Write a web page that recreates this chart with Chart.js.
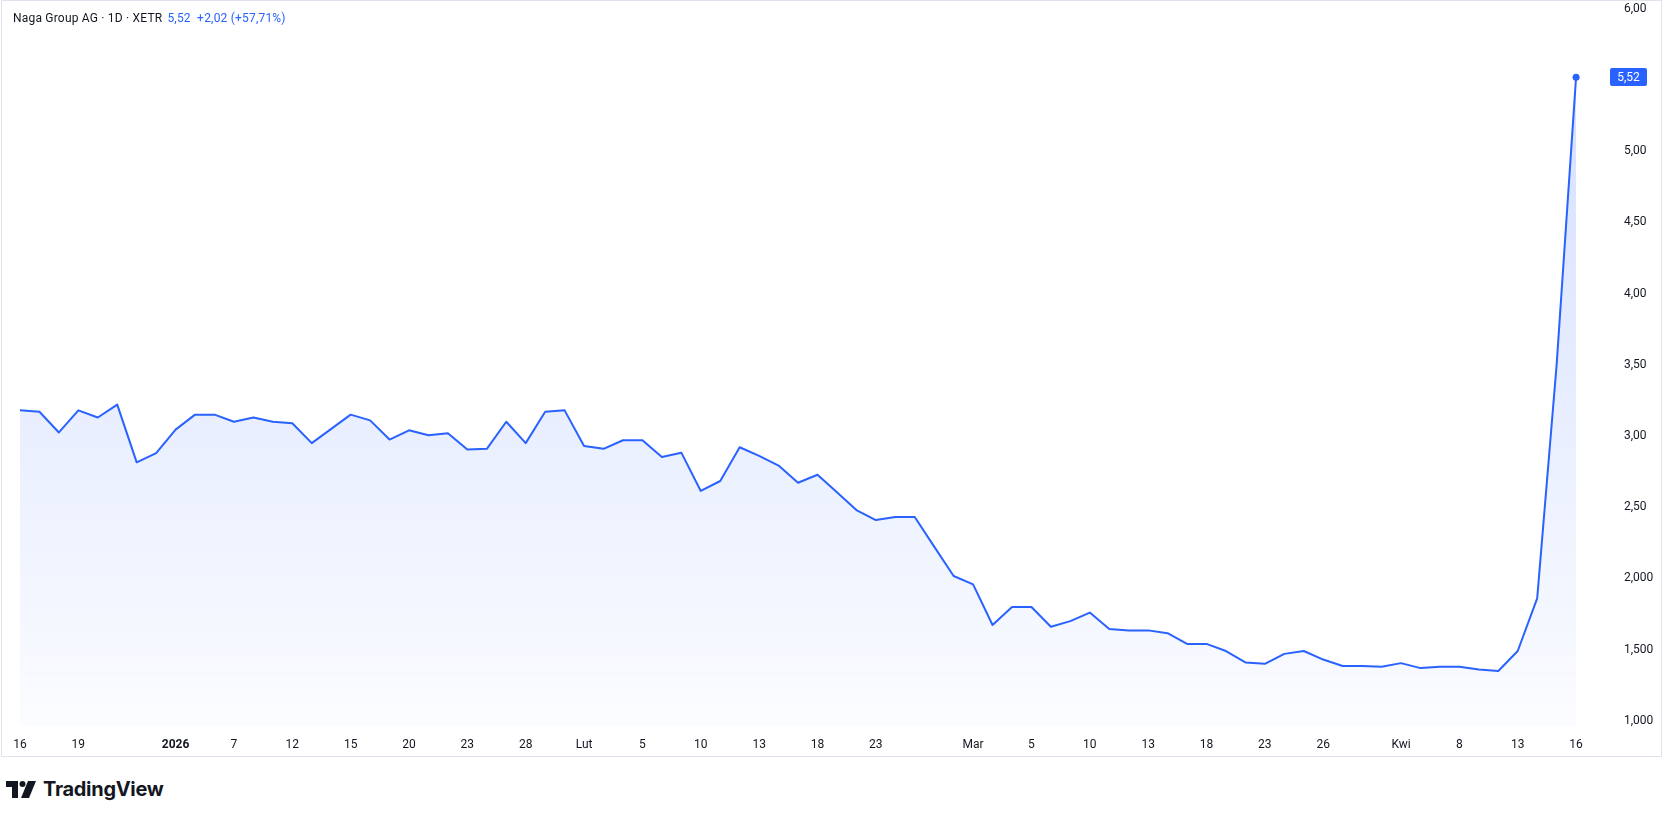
<!DOCTYPE html>
<html lang="pl">
<head>
<meta charset="UTF-8" />
<title>Naga Group AG - 1D - XETR</title>
<script src="https://cdn.jsdelivr.net/npm/chart.js"></script>
<style>
  body { margin: 0; background: #fff; font-family: Roboto, "Noto Sans", sans-serif; }
  .panel { position: absolute; left: 1px; top: 0; width: 1659px; height: 755px; border: 1px solid #e0e3eb; }
  canvas { display: block; }
  .legend { position: absolute; left: 11px; top: 10px; font-size: 12px; letter-spacing: 0.2px; color: #131722; white-space: pre; }
  .legend .val { color: #2962ff; margin-left: 5px; }
  .logo { position: absolute; left: 6px; top: 778px; height: 22px; display: flex; align-items: center; }
  .logo span { font-family: Inter, Roboto, sans-serif; font-weight: 700; font-size: 20px; color: #131722; margin-left: 7px; letter-spacing: -0.3px; }
</style>
</head>
<body>
  <div class="panel">
    <canvas id="chart" width="1659" height="755"></canvas>
    <div class="legend">Naga Group AG · 1D · XETR<span class="val">5,52  +2,02 (+57,71%)</span></div>
  </div>
  <div class="logo">
    <svg width="30" height="17" viewBox="0 0 30 17">
      <path d="M0 0 H12 V17 H6 V6 H0 Z" fill="#131722" />
      <circle cx="16.5" cy="3" r="3" fill="#131722" />
      <path d="M22 0 H30 L23 17 H15 Z" fill="#131722" />
    </svg>
    <span>TradingView</span>
  </div>

<script>
// trading days, 16 Dec 2025 - 16 Apr 2026
const dates = [
  '12-16', '12-17', '12-18', '12-19', '12-22', '12-23', '12-29', '12-30',
  '01-02', '01-05', '01-06', '01-07', '01-08', '01-09', '01-12', '01-13', '01-14', '01-15', '01-16',
  '01-19', '01-20', '01-21', '01-22', '01-23', '01-26', '01-27', '01-28', '01-29', '01-30',
  '02-02', '02-03', '02-04', '02-05', '02-06', '02-09', '02-10', '02-11', '02-12', '02-13',
  '02-16', '02-17', '02-18', '02-19', '02-20', '02-23', '02-24', '02-25', '02-26', '02-27',
  '03-02', '03-03', '03-04', '03-05', '03-06', '03-09', '03-10', '03-11', '03-12', '03-13',
  '03-16', '03-17', '03-18', '03-19', '03-20', '03-23', '03-24', '03-25', '03-26', '03-27',
  '03-30', '03-31', '04-01', '04-02', '04-07', '04-08', '04-09', '04-10', '04-13', '04-14',
  '04-15', '04-16'
];

// close prices (EUR)
const closes = [
  3.18, 3.17, 3.025, 3.18, 3.13, 3.22, 2.815, 2.88,
  3.045, 3.15, 3.15, 3.10, 3.13, 3.10, 3.09, 2.95, 3.05, 3.15, 3.11,
  2.975, 3.04, 3.005, 3.02, 2.905, 2.91, 3.10, 2.95, 3.17, 3.18,
  2.93, 2.91, 2.97, 2.97, 2.853, 2.883, 2.614, 2.684, 2.921, 2.86,
  2.792, 2.672, 2.728, 2.605, 2.48, 2.41, 2.431, 2.431, 2.223, 2.017,
  1.958, 1.673, 1.799, 1.799, 1.66, 1.70, 1.76, 1.645, 1.635, 1.635,
  1.615, 1.54, 1.54, 1.49, 1.41, 1.40, 1.47, 1.49, 1.43, 1.385,
  1.385, 1.38, 1.405, 1.37, 1.38, 1.38, 1.36, 1.35, 1.49, 1.86,
  3.50, 5.52
];

const xTickDates = ['12-16', '12-19', '01-02', '01-07', '01-12', '01-15', '01-20', '01-23', '01-28',
  '02-02', '02-05', '02-10', '02-13', '02-18', '02-23', '03-02', '03-05', '03-10', '03-13',
  '03-18', '03-23', '03-26', '04-01', '04-08', '04-13', '04-16'];
const xTickLabels = ['16', '19', '2026', '7', '12', '15', '20', '23', '28',
  'Lut', '5', '10', '13', '18', '23', 'Mar', '5', '10', '13',
  '18', '23', '26', 'Kwi', '8', '13', '16'];

const yTicks = [1, 1.5, 2, 2.5, 3, 3.5, 4, 4.5, 5, 6];
const yTickLabels = ['1,000', '1,500', '2,000', '2,50', '3,00', '3,50', '4,00', '4,50', '5,00', '6,00'];

const lastPrice = '5,52';
const blue = '#2962ff';
const textColor = '#131722';
const fontFamily = 'Roboto, "Noto Sans", sans-serif';

// blue price tag on the right axis
const priceTag = {
  id: 'priceTag',
  afterDraw(chart) {
    const ctx = chart.ctx;
    const y = chart.scales.y.getPixelForValue(closes[closes.length - 1]);
    ctx.save();
    ctx.fillStyle = blue;
    ctx.beginPath();
    ctx.roundRect(1608, Math.round(y) - 9, 37, 18, 2);
    ctx.fill();
    ctx.fillStyle = '#fff';
    ctx.font = '12px ' + fontFamily;
    ctx.textAlign = 'center';
    ctx.textBaseline = 'middle';
    ctx.fillText(lastPrice, 1626.5, Math.round(y) + 0.5);
    ctx.restore();
  }
};

new Chart(document.getElementById('chart'), {
  type: 'line',
  data: {
    datasets: [{
      data: closes.map((v, i) => ({ x: i, y: v })),
      borderColor: blue,
      borderWidth: 2,
      borderJoinStyle: 'round',
      tension: 0,
      fill: 'start',
      backgroundColor: ctx => {
        const area = ctx.chart.chartArea;
        if (!area) return 'rgba(41, 98, 255, 0.1)';
        const g = ctx.chart.ctx.createLinearGradient(0, area.top, 0, area.bottom);
        g.addColorStop(0, 'rgba(41, 98, 255, 0.22)');
        g.addColorStop(1, 'rgba(41, 98, 255, 0.02)');
        return g;
      },
      pointRadius: ctx => ctx.dataIndex === closes.length - 1 ? 3.5 : 0,
      pointBackgroundColor: blue,
      pointBorderWidth: 0,
      clip: false
    }]
  },
  options: {
    responsive: false,
    animation: false,
    layout: { padding: 0, autoPadding: false },
    plugins: { legend: { display: false }, tooltip: { enabled: false } },
    scales: {
      x: {
        type: 'linear',
        min: -0.925,
        max: 81.23,
        grid: { display: false },
        border: { display: false },
        afterBuildTicks: s => { s.ticks = xTickDates.map(d => ({ value: dates.indexOf(d) })); },
        afterFit: s => { s.height = 30; s.paddingLeft = 0; s.paddingRight = 0; },
        ticks: {
          autoSkip: false,
          maxRotation: 0,
          padding: 4,
          color: textColor,
          font: ctx => ({ family: fontFamily, size: 12, weight: xTickLabels[ctx.index] === '2026' ? 'bold' : 'normal' }),
          callback: (v, i) => xTickLabels[i]
        }
      },
      y: {
        position: 'right',
        min: 0.9635,
        max: 6.0548,
        grid: { display: false },
        border: { display: false },
        afterBuildTicks: s => { s.ticks = yTicks.map(v => ({ value: v })); },
        afterFit: s => { s.width = 61; s.paddingTop = 0; s.paddingBottom = 0; },
        ticks: {
          padding: 16,
          crossAlign: 'near',
          color: textColor,
          font: { family: fontFamily, size: 12 },
          callback: (v, i) => yTickLabels[i]
        }
      }
    }
  },
  plugins: [priceTag]
});
</script>
</body>
</html>
